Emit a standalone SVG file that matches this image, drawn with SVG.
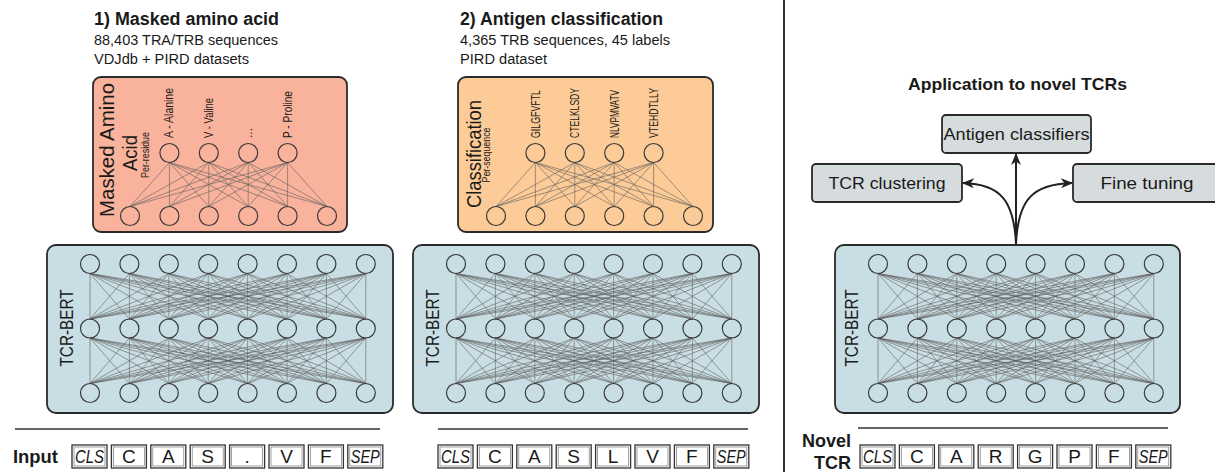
<svg xmlns="http://www.w3.org/2000/svg" width="1215" height="472" viewBox="0 0 1215 472">
<style>
.t{font-family:"Liberation Sans",Arial,sans-serif;fill:#1a1a1a}
.b{font-weight:bold}
.box{stroke:#2a2a2a;stroke-width:1.8}
.nd{fill:none;stroke:#3a3a3a;stroke-width:1.2}
.ln{fill:none;stroke:#5e5e5e;stroke-width:0.65;stroke-opacity:0.9}
.tok{fill:#fff;stroke:#333;stroke-width:1.3}
.tki{fill:none;stroke:#777;stroke-width:0.7}
.rule{stroke:#333;stroke-width:1.5}
.ar{fill:none;stroke:#222;stroke-width:2}
</style>
<defs>
<marker id="ah" viewBox="0 0 12 10" refX="11" refY="5" markerWidth="12" markerHeight="10" markerUnits="userSpaceOnUse" orient="auto"><path d="M0,0 L12,5 L0,10 L3.5,5 z" fill="#222"/></marker>
<path id="layer" class="ln" d="M0 9.5L0 55M0 9.5L39.4 55M0 9.5L78.8 55M0 9.5L118.2 55M0 9.5L157.6 55M0 9.5L197 55M0 9.5L236.4 55M0 9.5L275.8 55M39.4 9.5L0 55M39.4 9.5L39.4 55M39.4 9.5L78.8 55M39.4 9.5L118.2 55M39.4 9.5L157.6 55M39.4 9.5L197 55M39.4 9.5L236.4 55M39.4 9.5L275.8 55M78.8 9.5L0 55M78.8 9.5L39.4 55M78.8 9.5L78.8 55M78.8 9.5L118.2 55M78.8 9.5L157.6 55M78.8 9.5L197 55M78.8 9.5L236.4 55M78.8 9.5L275.8 55M118.2 9.5L0 55M118.2 9.5L39.4 55M118.2 9.5L78.8 55M118.2 9.5L118.2 55M118.2 9.5L157.6 55M118.2 9.5L197 55M118.2 9.5L236.4 55M118.2 9.5L275.8 55M157.6 9.5L0 55M157.6 9.5L39.4 55M157.6 9.5L78.8 55M157.6 9.5L118.2 55M157.6 9.5L157.6 55M157.6 9.5L197 55M157.6 9.5L236.4 55M157.6 9.5L275.8 55M197 9.5L0 55M197 9.5L39.4 55M197 9.5L78.8 55M197 9.5L118.2 55M197 9.5L157.6 55M197 9.5L197 55M197 9.5L236.4 55M197 9.5L275.8 55M236.4 9.5L0 55M236.4 9.5L39.4 55M236.4 9.5L78.8 55M236.4 9.5L118.2 55M236.4 9.5L157.6 55M236.4 9.5L197 55M236.4 9.5L236.4 55M236.4 9.5L275.8 55M275.8 9.5L0 55M275.8 9.5L39.4 55M275.8 9.5L78.8 55M275.8 9.5L118.2 55M275.8 9.5L157.6 55M275.8 9.5L197 55M275.8 9.5L236.4 55M275.8 9.5L275.8 55"/>
<g id="row8" class="nd"><circle cx="0" cy="0" r="9.5"/><circle cx="39.4" cy="0" r="9.5"/><circle cx="78.8" cy="0" r="9.5"/><circle cx="118.2" cy="0" r="9.5"/><circle cx="157.6" cy="0" r="9.5"/><circle cx="197" cy="0" r="9.5"/><circle cx="236.4" cy="0" r="9.5"/><circle cx="275.8" cy="0" r="9.5"/></g>
<g id="bertnet"><use href="#layer"/><use href="#layer" y="64.5"/><use href="#row8"/><use href="#row8" y="64.5"/><use href="#row8" y="129"/></g>
<g id="headnet"><path class="ln" d="M39.4 9.5L0 53.5M39.4 9.5L39.4 53.5M39.4 9.5L78.8 53.5M39.4 9.5L118.2 53.5M39.4 9.5L157.6 53.5M39.4 9.5L197 53.5M78.8 9.5L0 53.5M78.8 9.5L39.4 53.5M78.8 9.5L78.8 53.5M78.8 9.5L118.2 53.5M78.8 9.5L157.6 53.5M78.8 9.5L197 53.5M118.2 9.5L0 53.5M118.2 9.5L39.4 53.5M118.2 9.5L78.8 53.5M118.2 9.5L118.2 53.5M118.2 9.5L157.6 53.5M118.2 9.5L197 53.5M157.6 9.5L0 53.5M157.6 9.5L39.4 53.5M157.6 9.5L78.8 53.5M157.6 9.5L118.2 53.5M157.6 9.5L157.6 53.5M157.6 9.5L197 53.5"/>
<g class="nd"><circle cx="39.4" cy="0" r="9.5"/><circle cx="78.8" cy="0" r="9.5"/><circle cx="118.2" cy="0" r="9.5"/><circle cx="157.6" cy="0" r="9.5"/><circle cx="0" cy="63" r="9.5"/><circle cx="39.4" cy="63" r="9.5"/><circle cx="78.8" cy="63" r="9.5"/><circle cx="118.2" cy="63" r="9.5"/><circle cx="157.6" cy="63" r="9.5"/><circle cx="197" cy="63" r="9.5"/></g></g>
</defs>
<rect width="1215" height="472" fill="#fff"/>

<g id="divider"><line x1="784" y1="0" x2="784" y2="472" stroke="#333" stroke-width="2"/></g>

<g id="title1">
<text class="t b" x="94" y="25" font-size="17.5" textLength="185" lengthAdjust="spacingAndGlyphs">1) Masked amino acid</text>
<text class="t" x="94" y="45" font-size="14" textLength="184" lengthAdjust="spacingAndGlyphs">88,403 TRA/TRB sequences</text>
<text class="t" x="94" y="64" font-size="14" textLength="155" lengthAdjust="spacingAndGlyphs">VDJdb + PIRD datasets</text>
</g>
<g id="title2">
<text class="t b" x="460" y="25" font-size="17.5" textLength="203" lengthAdjust="spacingAndGlyphs">2) Antigen classification</text>
<text class="t" x="460" y="45" font-size="14" textLength="210" lengthAdjust="spacingAndGlyphs">4,365 TRB sequences, 45 labels</text>
<text class="t" x="460" y="64" font-size="14" textLength="87" lengthAdjust="spacingAndGlyphs">PIRD dataset</text>
</g>

<g id="masked-head">
<rect class="box" x="93" y="77" width="254" height="155" rx="8" fill="#f9b29b"/>
<use href="#headnet" x="130" y="153"/>
<text class="t" transform="translate(114,150) rotate(-90)" text-anchor="middle" font-size="21" textLength="134" lengthAdjust="spacingAndGlyphs">Masked Amino</text>
<text class="t" transform="translate(137,153) rotate(-90)" text-anchor="middle" font-size="21" textLength="36" lengthAdjust="spacingAndGlyphs">Acid</text>
<text class="t" transform="translate(149,155) rotate(-90)" text-anchor="middle" font-size="10.5" textLength="46" lengthAdjust="spacingAndGlyphs">Per-residue</text>
<text class="t" transform="translate(173.4,138) rotate(-90)" font-size="12" textLength="50" lengthAdjust="spacingAndGlyphs">A - Alanine</text>
<text class="t" transform="translate(213,138) rotate(-90)" font-size="12" textLength="40" lengthAdjust="spacingAndGlyphs">V - Valine</text>
<text class="t" transform="translate(252.4,138) rotate(-90)" font-size="12">...</text>
<text class="t" transform="translate(291.8,138) rotate(-90)" font-size="12" textLength="47" lengthAdjust="spacingAndGlyphs">P - Proline</text>
</g>

<g id="class-head">
<rect class="box" x="458" y="77" width="255" height="155" rx="8" fill="#fccb97"/>
<use href="#headnet" x="496" y="153"/>
<text class="t" transform="translate(481,154) rotate(-90)" text-anchor="middle" font-size="21" textLength="108" lengthAdjust="spacingAndGlyphs">Classification</text>
<text class="t" transform="translate(490,155) rotate(-90)" text-anchor="middle" font-size="10.5" textLength="55" lengthAdjust="spacingAndGlyphs">Per-sequence</text>
<text class="t" transform="translate(539.9,138) rotate(-90)" font-size="12" textLength="48" lengthAdjust="spacingAndGlyphs">GILGFVFTL</text>
<text class="t" transform="translate(579.3,138) rotate(-90)" font-size="12" textLength="50" lengthAdjust="spacingAndGlyphs">CTELKLSDY</text>
<text class="t" transform="translate(618.7,138) rotate(-90)" font-size="12" textLength="48" lengthAdjust="spacingAndGlyphs">NLVPMVATV</text>
<text class="t" transform="translate(658.1,138) rotate(-90)" font-size="12" textLength="50" lengthAdjust="spacingAndGlyphs">VTEHDTLLY</text>
</g>

<g id="bert1">
<rect class="box" x="47" y="245" width="346" height="168" rx="9" fill="#c9dee4"/>
<use href="#bertnet" x="90" y="264"/>
<text class="t" transform="translate(73,328) rotate(-90)" text-anchor="middle" font-size="18" textLength="77" lengthAdjust="spacingAndGlyphs">TCR-BERT</text>
</g>
<g id="bert2">
<rect class="box" x="413" y="245" width="346" height="168" rx="9" fill="#c9dee4"/>
<use href="#bertnet" x="456" y="264"/>
<text class="t" transform="translate(439,328) rotate(-90)" text-anchor="middle" font-size="18" textLength="77" lengthAdjust="spacingAndGlyphs">TCR-BERT</text>
</g>
<g id="bert3">
<rect class="box" x="835" y="245" width="345" height="168" rx="9" fill="#c9dee4"/>
<use href="#bertnet" x="878" y="264"/>
<text class="t" transform="translate(858,328) rotate(-90)" text-anchor="middle" font-size="18" textLength="77" lengthAdjust="spacingAndGlyphs">TCR-BERT</text>
</g>

<g id="input1">
<line class="rule" x1="15" y1="429" x2="380" y2="429"/>
<text class="t b" x="13" y="463" font-size="18" textLength="45" lengthAdjust="spacingAndGlyphs">Input</text>
<g font-size="19" text-anchor="middle">
<rect class="tok" x="72" y="445" width="35" height="23"/><rect class="tki" x="74" y="447" width="31" height="19"/><text class="t" x="89.5" y="463" font-style="italic" textLength="29" lengthAdjust="spacingAndGlyphs">CLS</text>
<rect class="tok" x="111.4" y="445" width="35" height="23"/><rect class="tki" x="113.4" y="447" width="31" height="19"/><text class="t" x="128.9" y="463">C</text>
<rect class="tok" x="150.8" y="445" width="35" height="23"/><rect class="tki" x="152.8" y="447" width="31" height="19"/><text class="t" x="168.3" y="463">A</text>
<rect class="tok" x="190.2" y="445" width="35" height="23"/><rect class="tki" x="192.2" y="447" width="31" height="19"/><text class="t" x="207.7" y="463">S</text>
<rect class="tok" x="229.6" y="445" width="35" height="23"/><rect class="tki" x="231.6" y="447" width="31" height="19"/><text class="t" x="247.1" y="463">.</text>
<rect class="tok" x="269" y="445" width="35" height="23"/><rect class="tki" x="271" y="447" width="31" height="19"/><text class="t" x="286.5" y="463">V</text>
<rect class="tok" x="308.4" y="445" width="35" height="23"/><rect class="tki" x="310.4" y="447" width="31" height="19"/><text class="t" x="325.9" y="463">F</text>
<rect class="tok" x="347.8" y="445" width="35" height="23"/><rect class="tki" x="349.8" y="447" width="31" height="19"/><text class="t" x="365.3" y="463" font-style="italic" textLength="29" lengthAdjust="spacingAndGlyphs">SEP</text>
</g>
</g>

<g id="input2">
<line class="rule" x1="438" y1="429" x2="748" y2="429"/>
<g font-size="19" text-anchor="middle">
<rect class="tok" x="438" y="445" width="35" height="23"/><rect class="tki" x="440" y="447" width="31" height="19"/><text class="t" x="455.5" y="463" font-style="italic" textLength="29" lengthAdjust="spacingAndGlyphs">CLS</text>
<rect class="tok" x="477.4" y="445" width="35" height="23"/><rect class="tki" x="479.4" y="447" width="31" height="19"/><text class="t" x="494.9" y="463">C</text>
<rect class="tok" x="516.8" y="445" width="35" height="23"/><rect class="tki" x="518.8" y="447" width="31" height="19"/><text class="t" x="534.3" y="463">A</text>
<rect class="tok" x="556.2" y="445" width="35" height="23"/><rect class="tki" x="558.2" y="447" width="31" height="19"/><text class="t" x="573.7" y="463">S</text>
<rect class="tok" x="595.6" y="445" width="35" height="23"/><rect class="tki" x="597.6" y="447" width="31" height="19"/><text class="t" x="613.1" y="463">L</text>
<rect class="tok" x="635" y="445" width="35" height="23"/><rect class="tki" x="637" y="447" width="31" height="19"/><text class="t" x="652.5" y="463">V</text>
<rect class="tok" x="674.4" y="445" width="35" height="23"/><rect class="tki" x="676.4" y="447" width="31" height="19"/><text class="t" x="691.9" y="463">F</text>
<rect class="tok" x="713.8" y="445" width="35" height="23"/><rect class="tki" x="715.8" y="447" width="31" height="19"/><text class="t" x="731.3" y="463" font-style="italic" textLength="29" lengthAdjust="spacingAndGlyphs">SEP</text>
</g>
</g>

<g id="input3">
<line class="rule" x1="858" y1="428" x2="1168" y2="428"/>
<text class="t b" x="851" y="447" font-size="18" text-anchor="end">Novel</text>
<text class="t b" x="851" y="469" font-size="18" text-anchor="end">TCR</text>
<g font-size="19" text-anchor="middle">
<rect class="tok" x="860" y="445" width="35" height="23"/><rect class="tki" x="862" y="447" width="31" height="19"/><text class="t" x="877.5" y="463" font-style="italic" textLength="29" lengthAdjust="spacingAndGlyphs">CLS</text>
<rect class="tok" x="899.4" y="445" width="35" height="23"/><rect class="tki" x="901.4" y="447" width="31" height="19"/><text class="t" x="916.9" y="463">C</text>
<rect class="tok" x="938.8" y="445" width="35" height="23"/><rect class="tki" x="940.8" y="447" width="31" height="19"/><text class="t" x="956.3" y="463">A</text>
<rect class="tok" x="978.2" y="445" width="35" height="23"/><rect class="tki" x="980.2" y="447" width="31" height="19"/><text class="t" x="995.7" y="463">R</text>
<rect class="tok" x="1017.6" y="445" width="35" height="23"/><rect class="tki" x="1019.6" y="447" width="31" height="19"/><text class="t" x="1035.1" y="463">G</text>
<rect class="tok" x="1057" y="445" width="35" height="23"/><rect class="tki" x="1059" y="447" width="31" height="19"/><text class="t" x="1074.5" y="463">P</text>
<rect class="tok" x="1096.4" y="445" width="35" height="23"/><rect class="tki" x="1098.4" y="447" width="31" height="19"/><text class="t" x="1113.9" y="463">F</text>
<rect class="tok" x="1135.8" y="445" width="35" height="23"/><rect class="tki" x="1137.8" y="447" width="31" height="19"/><text class="t" x="1153.3" y="463" font-style="italic" textLength="29" lengthAdjust="spacingAndGlyphs">SEP</text>
</g>
</g>

<g id="app-title"><text class="t b" x="908" y="90" font-size="17" textLength="219" lengthAdjust="spacingAndGlyphs">Application to novel TCRs</text></g>
<g id="antigen-classifiers">
<rect class="box" x="942" y="115" width="149" height="38" rx="4" fill="#d6dcdd"/>
<text class="t" x="1016.5" y="140" font-size="17" text-anchor="middle" textLength="146" lengthAdjust="spacingAndGlyphs">Antigen classifiers</text>
</g>
<g id="tcr-clustering">
<rect class="box" x="812" y="164" width="150" height="38" rx="4" fill="#d6dcdd"/>
<text class="t" x="887" y="189" font-size="17" text-anchor="middle" textLength="117" lengthAdjust="spacingAndGlyphs">TCR clustering</text>
</g>
<g id="fine-tuning">
<rect class="box" x="1073" y="164" width="150" height="38" rx="4" fill="#d6dcdd"/>
<text class="t" x="1147" y="189" font-size="17" text-anchor="middle" textLength="93" lengthAdjust="spacingAndGlyphs">Fine tuning</text>
</g>

<g id="connectors">
<path class="ar" d="M1016,244 L1016,154" marker-end="url(#ah)"/>
<path class="ar" d="M1016,244 C1014,200 1000,184 963,183" marker-end="url(#ah)"/>
<path class="ar" d="M1016,244 C1018,200 1032,184 1072,183" marker-end="url(#ah)"/>
</g>
</svg>
